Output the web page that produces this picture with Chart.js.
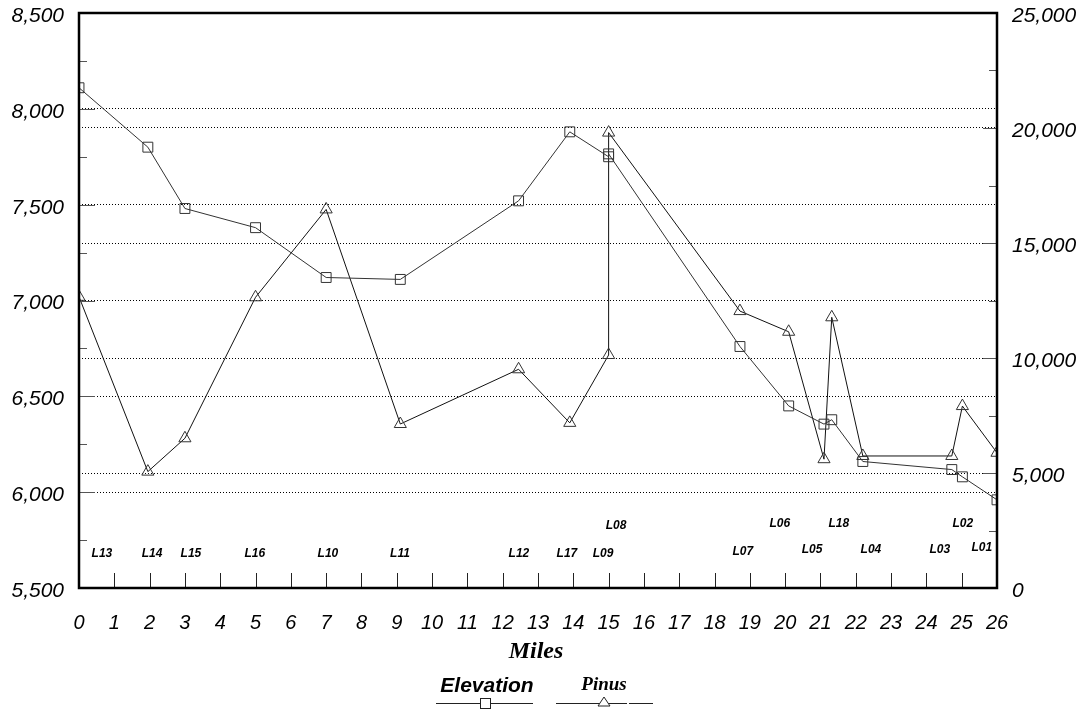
<!DOCTYPE html>
<html>
<head>
<meta charset="utf-8">
<title>Elevation and Pinus by mile</title>
<script src="https://cdn.jsdelivr.net/npm/chart.js@4.4.1/dist/chart.umd.min.js"></script>
<style>
  html, body { margin: 0; padding: 0; background: #fff; }
  #wrap { width: 1088px; height: 713px; position: relative; }
</style>
</head>
<body>
<div id="wrap"><canvas id="profileChart"></canvas></div>
<script>
// Sample sites along the transect
const sites = ['L13', 'L14', 'L15', 'L16', 'L10', 'L11', 'L12', 'L17', 'L09',
               'L08', 'L07', 'L06', 'L05', 'L18', 'L04', 'L03', 'L02', 'L01'];
const miles = [0, 1.95, 3, 5, 7, 9.1, 12.45, 13.9, 15,
               15, 18.72, 20.1, 21.1, 21.32, 22.2, 24.72, 25.02, 26];
const elevation = [8110, 7800, 7480, 7380, 7120, 7110, 7520, 7880, 7750,
                   7765, 6760, 6450, 6355, 6378, 6160, 6118, 6080, 5960];
const pinus = [12660, 5060, 6510, 12640, 16460, 7130, 9510, 7180, 10130,
               19800, 12040, 11140, 5600, 11770, 5740, 5740, 7910, 5880];

// Where the site names sit (miles, elevation units)
const labelMiles = [0.65, 2.07, 3.17, 4.98, 7.05, 9.09, 12.46, 13.82, 14.84,
                    15.21, 18.8, 19.85, 20.76, 21.52, 22.43, 24.38, 25.03, 25.57];
const labelElev = [5678, 5678, 5678, 5678, 5678, 5678, 5678, 5678, 5678,
                   5826, 5688, 5836, 5698, 5836, 5698, 5698, 5836, 5709];

const SANS = '"Liberation Sans", Arial, sans-serif';
const SERIF = '"Liberation Serif", "Times New Roman", serif';

function toPoints(values) {
    return miles.map((m, i) => ({ x: m, y: values[i] }));
}

// keep the plot box where the reference has it
function noPadding(scale) {
    scale.paddingTop = 0;
    scale.paddingBottom = 0;
    scale.paddingLeft = 0;
    scale.paddingRight = 0;
}

// box, inward tick marks, site names, axis title and legend
const decorations = {
    id: 'decorations',
    afterDatasetsDraw(chart) {
        const ctx = chart.ctx;
        const area = chart.chartArea;
        const x = chart.scales.x;
        const yL = chart.scales.yL;
        const yR = chart.scales.yR;

        ctx.save();

        // tick marks
        ctx.lineWidth = 1;
        ctx.strokeStyle = '#222';
        ctx.beginPath();
        for (let m = 1; m < 26; m++) {
            const px = Math.round(x.getPixelForValue(m)) + 0.5;
            ctx.moveTo(px, area.bottom);
            ctx.lineTo(px, area.bottom - 15);
        }
        ctx.stroke();

        ctx.strokeStyle = '#555';
        ctx.beginPath();
        for (let v = 5750; v < 8500; v += 250) {
            const py = Math.round(yL.getPixelForValue(v)) + 0.5;
            const len = v % 500 === 0 ? 16 : 8;
            ctx.moveTo(area.left, py);
            ctx.lineTo(area.left + len, py);
        }
        for (let v = 2500; v < 25000; v += 2500) {
            const py = Math.round(yR.getPixelForValue(v)) + 0.5;
            const len = v % 5000 === 0 ? 14 : 8;
            ctx.moveTo(area.right, py);
            ctx.lineTo(area.right - len, py);
        }
        ctx.stroke();

        // frame
        ctx.strokeStyle = '#000';
        ctx.lineWidth = 2.5;
        ctx.strokeRect(area.left, area.top, area.right - area.left, area.bottom - area.top);

        // site names
        ctx.fillStyle = '#000';
        ctx.font = 'italic bold 12px ' + SANS;
        ctx.textAlign = 'center';
        ctx.textBaseline = 'middle';
        sites.forEach((s, i) => {
            ctx.fillText(s, x.getPixelForValue(labelMiles[i]), yL.getPixelForValue(labelElev[i]));
        });

        // axis title
        const cx = (area.left + area.right) / 2;
        ctx.font = 'italic bold 24px ' + SERIF;
        ctx.textBaseline = 'alphabetic';
        ctx.fillText('Miles', cx - 2, 658);

        // legend
        const ds = chart.data.datasets;
        ctx.font = 'italic bold 21px ' + SANS;
        ctx.fillText(ds[0].label, 487, 692);
        ctx.font = 'italic bold 19px ' + SERIF;
        ctx.fillText(ds[1].label, 604, 690);

        ctx.lineWidth = 1;
        ctx.strokeStyle = '#222';
        ctx.beginPath();
        ctx.moveTo(436, 703.5); ctx.lineTo(533, 703.5);
        ctx.moveTo(556, 703.5); ctx.lineTo(627, 703.5);
        ctx.moveTo(629, 703.5); ctx.lineTo(653, 703.5);
        ctx.stroke();

        ctx.fillStyle = '#fff';
        ctx.fillRect(480.5, 698.5, 10, 10);
        ctx.strokeRect(480.5, 698.5, 10, 10);

        ctx.beginPath();
        ctx.moveTo(604, 697);
        ctx.lineTo(610, 706);
        ctx.lineTo(598, 706);
        ctx.closePath();
        ctx.fill();
        ctx.stroke();

        ctx.restore();
    }
};

new Chart(document.getElementById('profileChart'), {
    type: 'line',
    data: {
        datasets: [
            {
                label: 'Elevation',
                data: toPoints(elevation),
                yAxisID: 'yL',
                borderColor: '#333',
                borderWidth: 1,
                tension: 0,
                pointStyle: 'rect',
                pointRadius: 7,
                pointBorderWidth: 1,
                pointBorderColor: '#333',
                pointBackgroundColor: 'rgba(0,0,0,0)'
            },
            {
                label: 'Pinus',
                data: toPoints(pinus),
                yAxisID: 'yR',
                borderColor: '#111',
                borderWidth: 1,
                tension: 0,
                pointStyle: 'triangle',
                pointRadius: 7,
                pointBorderWidth: 1,
                pointBorderColor: '#333',
                pointBackgroundColor: 'rgba(0,0,0,0)'
            }
        ]
    },
    options: {
        responsive: true,
        maintainAspectRatio: false,
        animation: false,
        locale: 'en-US',
        layout: { padding: { top: 13, left: 0, right: 0, bottom: 0 } },
        plugins: {
            legend: { display: false },
            tooltip: { enabled: false }
        },
        scales: {
            x: {
                type: 'linear',
                position: 'bottom',
                min: 0,
                max: 26,
                grid: { display: false },
                border: { display: false },
                ticks: {
                    stepSize: 1,
                    autoSkip: false,
                    maxRotation: 0,
                    padding: 15,
                    color: '#000',
                    font: { family: SANS, size: 20, style: 'italic' }
                },
                afterFit(scale) { noPadding(scale); scale.height = 125; }
            },
            yL: {
                type: 'linear',
                position: 'left',
                min: 5500,
                max: 8500,
                grid: { color: '#000', lineWidth: 1, drawTicks: false },
                border: { display: false, dash: [1, 2] },
                ticks: {
                    stepSize: 500,
                    padding: 15,
                    labelOffset: 3,
                    color: '#000',
                    font: { family: SANS, size: 21, style: 'italic' }
                },
                afterFit(scale) { noPadding(scale); scale.width = 79; }
            },
            yR: {
                type: 'linear',
                position: 'right',
                min: 0,
                max: 25000,
                grid: { color: '#000', lineWidth: 1, drawTicks: false },
                border: { display: false, dash: [1, 2] },
                ticks: {
                    stepSize: 5000,
                    padding: 15,
                    labelOffset: 3,
                    color: '#000',
                    font: { family: SANS, size: 21, style: 'italic' }
                },
                afterFit(scale) { noPadding(scale); scale.width = 91; }
            }
        }
    },
    plugins: [decorations]
});
</script>
</body>
</html>
